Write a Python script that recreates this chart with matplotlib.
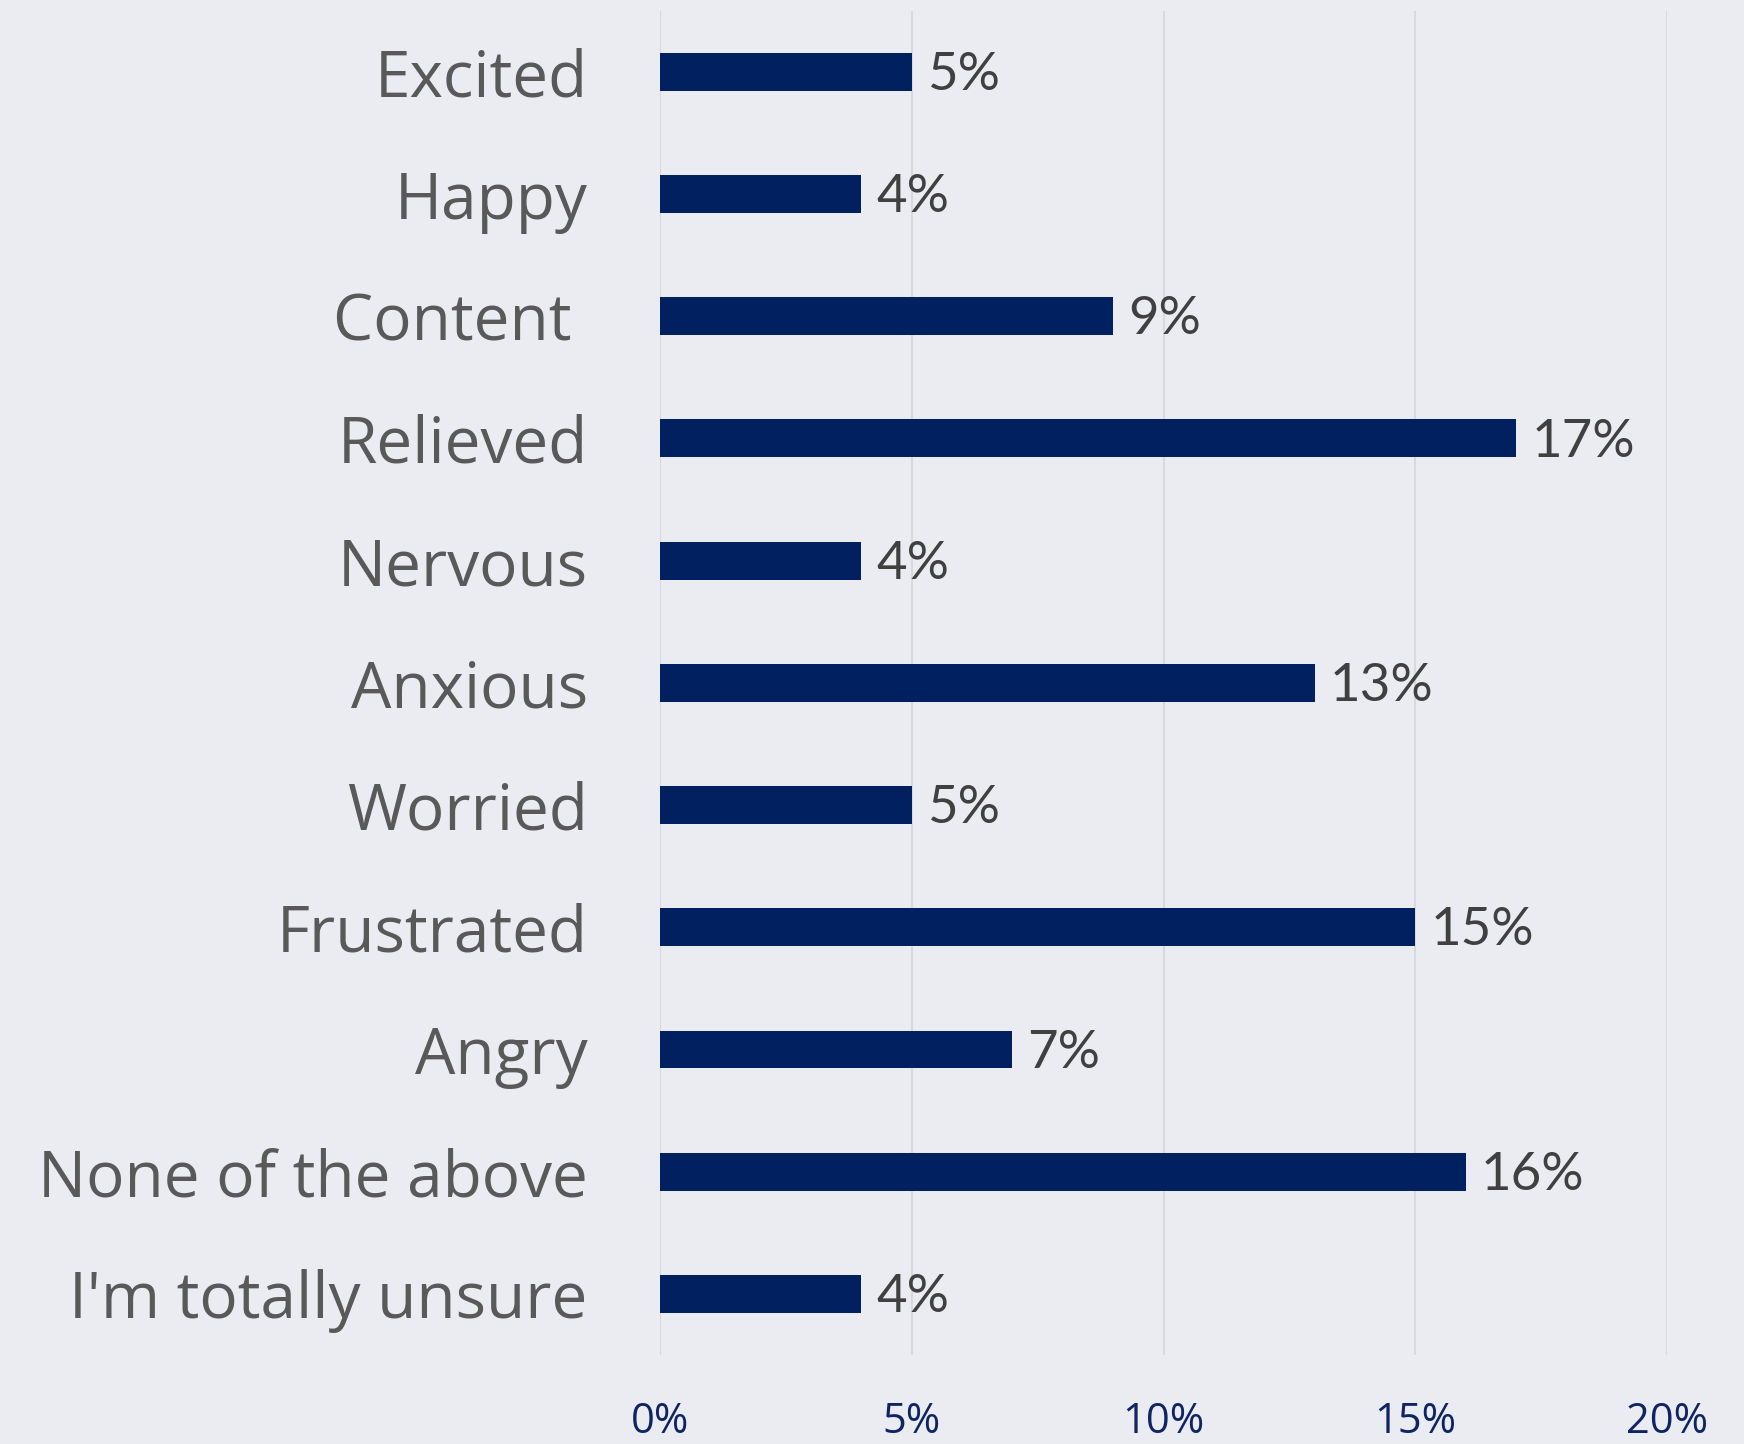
import matplotlib.pyplot as plt
from matplotlib.ticker import FuncFormatter

# Survey responses (share of respondents, %)
CATEGORIES = ["Excited", "Happy", "Content ", "Relieved", "Nervous", "Anxious",
              "Worried", "Frustrated", "Angry", "None of the above", "I'm totally unsure"]
VALUES = [5, 4, 9, 17, 4, 13, 5, 15, 7, 16, 4]
X_TICKS = [0, 5, 10, 15, 20]

BG = "#EBEBF2"
BAR_COLOR = "#002060"

fig = plt.figure(figsize=(17.44, 14.44), dpi=100, facecolor=BG)
ax = fig.add_axes([0.3784, 0.0616, 0.5776, 0.931])
ax.set_facecolor(BG)

positions = list(range(len(CATEGORIES)))
bars = ax.barh(positions, VALUES, height=0.31, color=BAR_COLOR, zorder=3)

# Value labels at the end of each bar
for rect, v in zip(bars, VALUES):
    ax.text(rect.get_width() + 0.3, rect.get_y() + rect.get_height() / 2 + 0.03, f"{v}%",
            va="center", ha="left", fontsize=38, color="#404040", family="Lato")

ax.set_xlim(0, 20)
ax.set_ylim(len(CATEGORIES) - 0.5, -0.5)
ax.set_xticks(X_TICKS)
ax.xaxis.set_major_formatter(FuncFormatter(lambda x, _: f"{x:.0f}%"))
ax.set_yticks(positions)
ax.set_yticklabels(CATEGORIES)

ax.grid(axis="x", color="#D9D9D9", linewidth=1.5, zorder=0)
for s in ax.spines.values():
    s.set_visible(False)

ax.tick_params(axis="x", length=0, pad=33, labelsize=30, labelcolor="#0E2463")
ax.tick_params(axis="y", length=0, pad=52, labelsize=46, labelcolor="#595959")
for lbl in ax.get_xticklabels():
    lbl.set_family("Open Sans")
for lbl in ax.get_yticklabels():
    lbl.set_family("Open Sans")

plt.savefig("out.png", dpi=100, facecolor=BG)
